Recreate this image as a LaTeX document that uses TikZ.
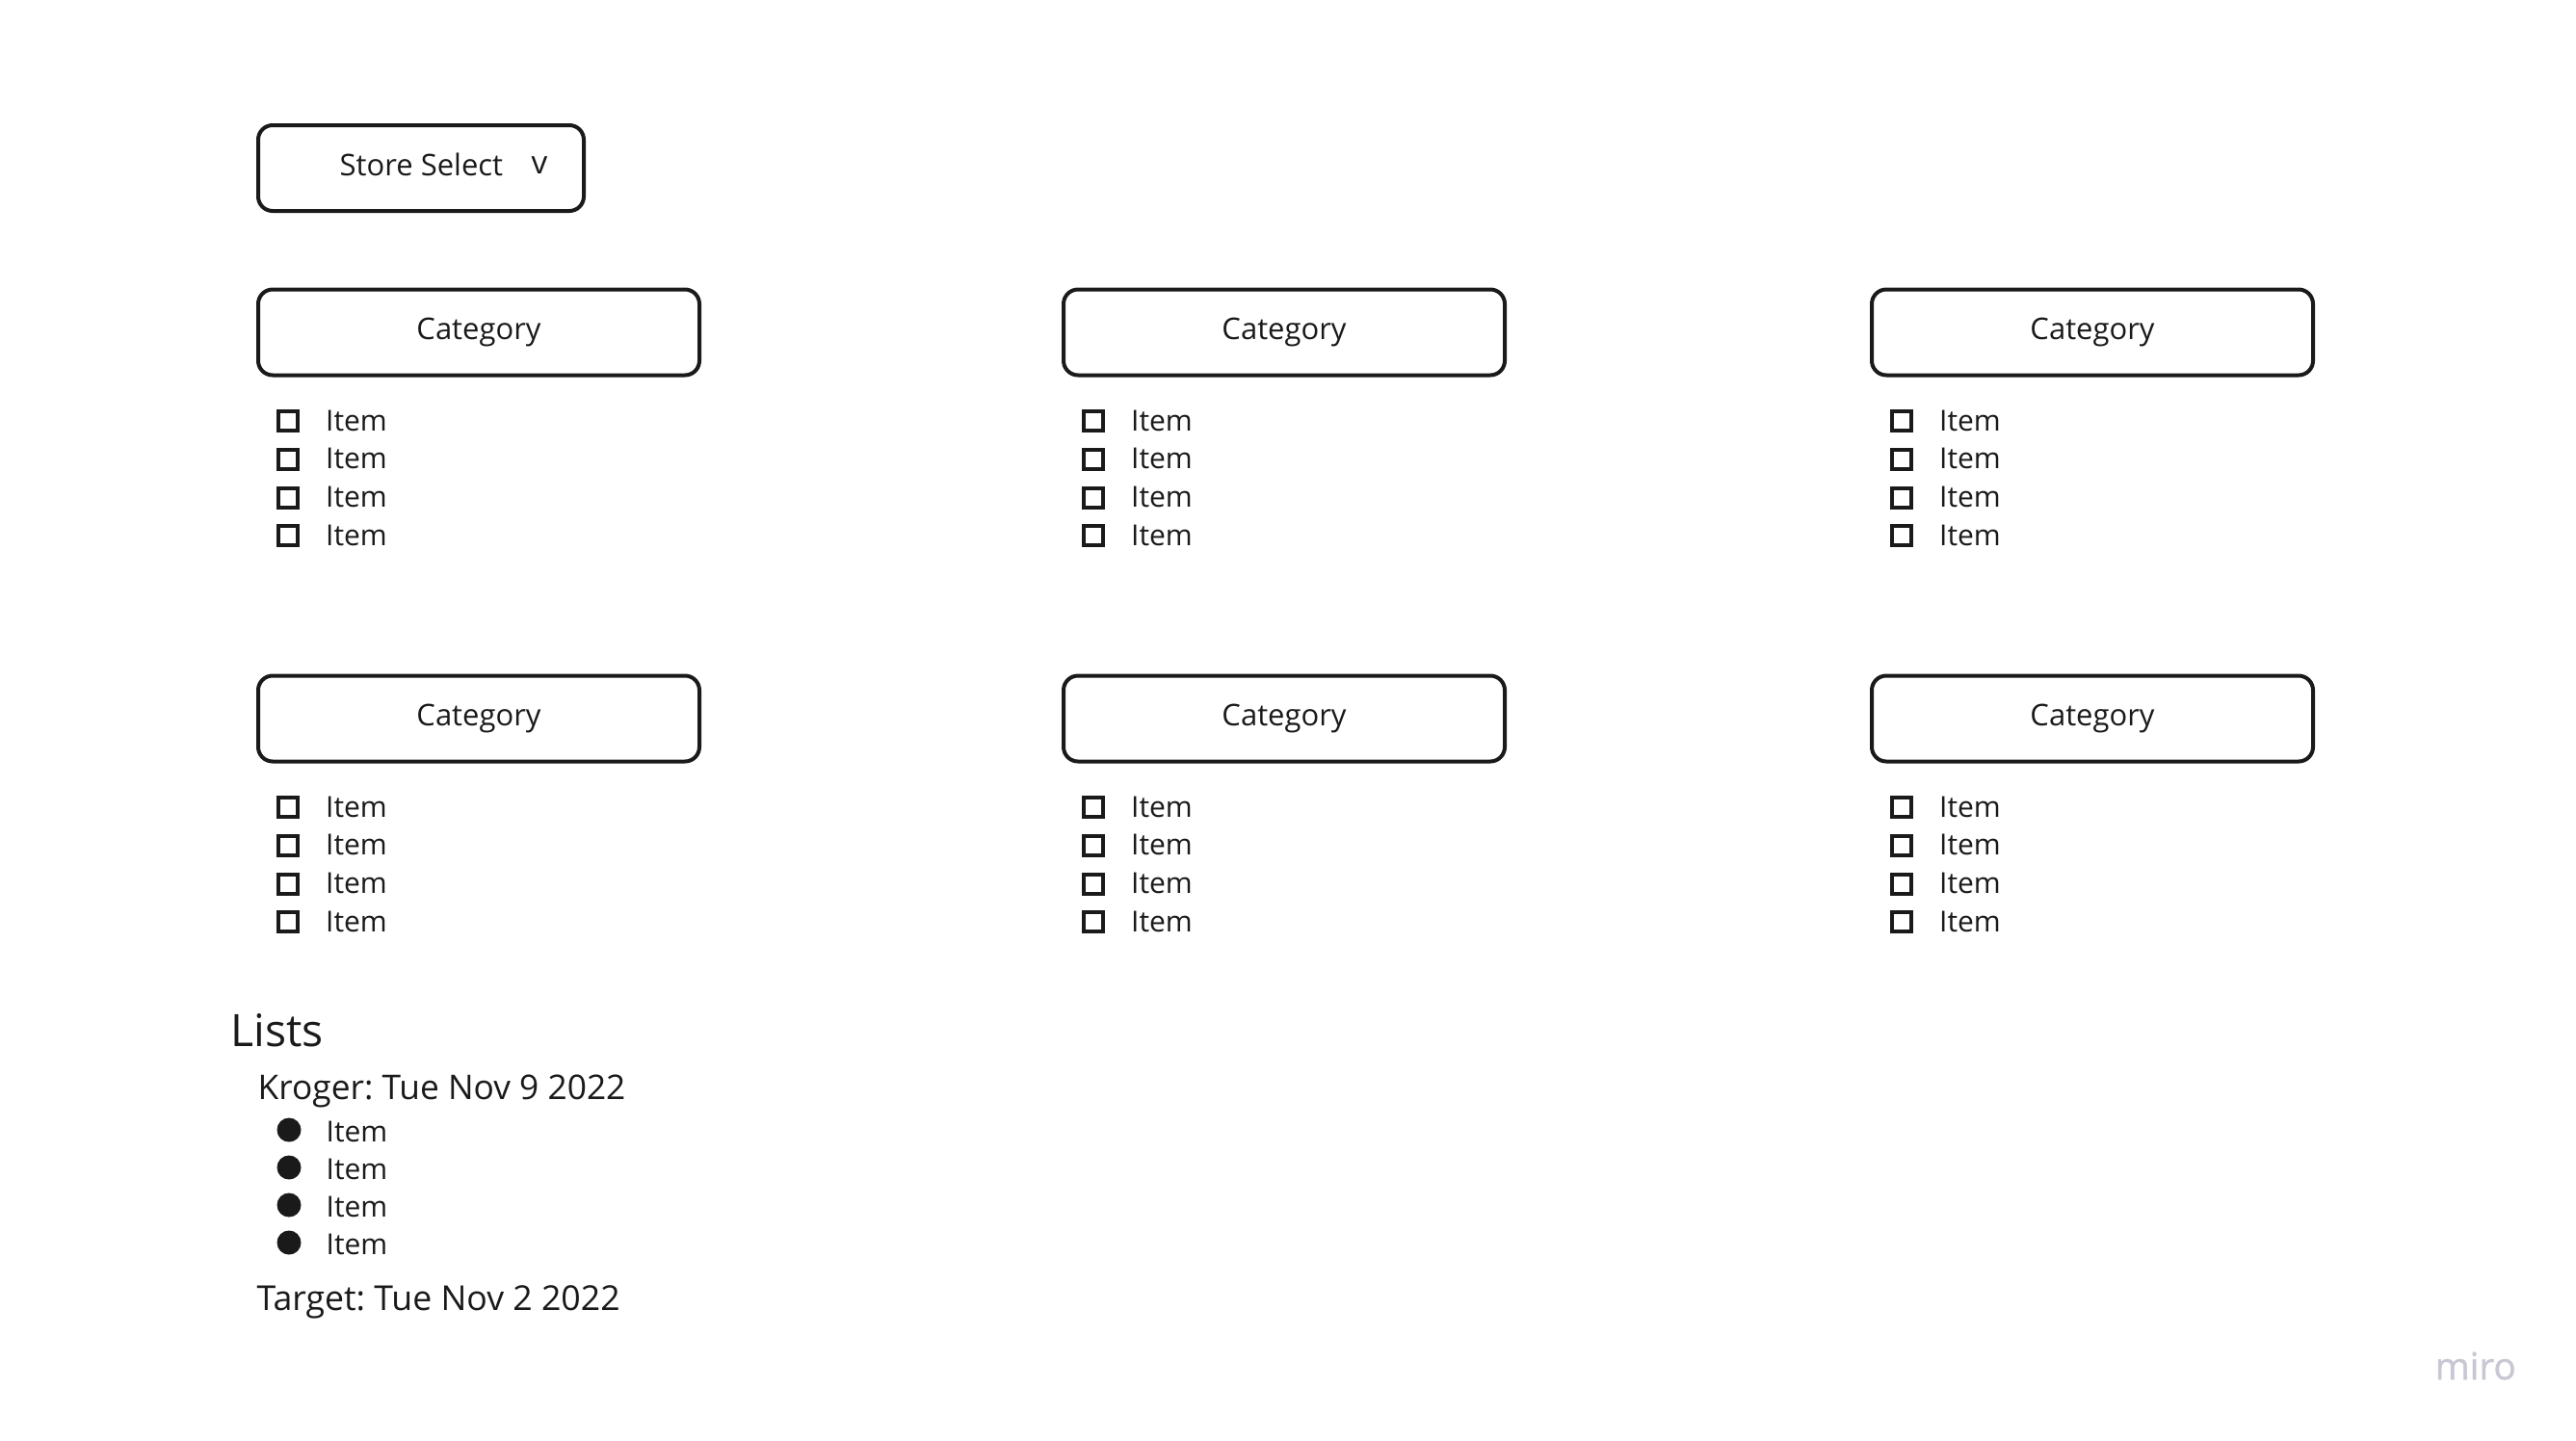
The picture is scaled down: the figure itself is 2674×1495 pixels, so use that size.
\documentclass[tikz,border=0pt]{standalone}
\usepackage{fontspec}
\setmainfont{Open Sans}
\newfontfamily\mirofont[FakeBold=1.2]{Open Sans}
\frenchspacing
\definecolor{ink}{HTML}{1A1A1A}
\definecolor{mirogrey}{HTML}{C8C8D4}
\tikzset{
  catbox/.style={draw=ink, line width=1.2pt, rounded corners=4.5pt,
    minimum width=137.4pt, minimum height=26.7pt, inner sep=0pt,
    text=ink, font=\fontsize{9.3}{11}\selectfont},
  storebox/.style={draw=ink, line width=1.2pt, rounded corners=4.5pt,
    minimum width=101.4pt, minimum height=26.7pt, inner sep=0pt},
  txt/.style={text=ink, inner sep=0pt, font=\fontsize{9}{11}\selectfont},
  chk/.style={draw=ink, line width=1.2pt, minimum size=6pt, inner sep=0pt},
  bul/.style={circle, fill=ink, minimum size=7.5pt, inner sep=0pt},
}
\begin{document}
\begin{tikzpicture}[x=0.3pt,y=-0.3pt]
\useasboundingbox[fill=white] (0,0) rectangle (2674,1495);

% Store select dropdown
\node[storebox] (store) at (437,174.5) {};
\node[txt, anchor=base west, font=\fontsize{9.3}{11}\selectfont] (storetxt) at (352,182) {Store Select};
\node[txt, anchor=base west, font=\fontsize{10}{12}\selectfont] (storearrow) at (551,180) {v};

% Category blocks
\foreach \c/\cx in {1/266,2/1102,3/1941} {
  \foreach \r/\ry in {1/0,2/401} {
    \node[catbox] (cat\c\r) at (\cx+231,345+\ry) {Category};
    \foreach \i in {0,1,2,3} {
      \node[chk] (chk\c\r\i) at (\cx+32.5,437+\ry+39.8*\i) {};
      \node[txt, anchor=base west] (item\c\r\i) at (\cx+71.5,447+\ry+39.8*\i) {Item};
    }
  }
}

% Lists
\node[txt, anchor=base west, font=\fontsize{13.9}{17}\selectfont] (lists) at (239,1086) {Lists};
\node[txt, anchor=base west, font=\fontsize{10.6}{13}\selectfont] (kroger) at (267,1141) {Kroger: Tue Nov 9 2022};
\foreach \i in {0,1,2,3} {
  \node[bul] (bul\i) at (300,1173+39*\i) {};
  \node[txt, anchor=base west] (litem\i) at (338,1185+39*\i) {Item};
}
\node[txt, anchor=base west, font=\fontsize{10.7}{13}\selectfont] (target) at (266,1360) {Target: Tue Nov 2 2022};

% watermark
\node[inner sep=0pt, anchor=base west, text=mirogrey, font=\mirofont\fontsize{11.6}{14}\selectfont] (miro) at (2527,1432) {miro};
\end{tikzpicture}
\end{document}
